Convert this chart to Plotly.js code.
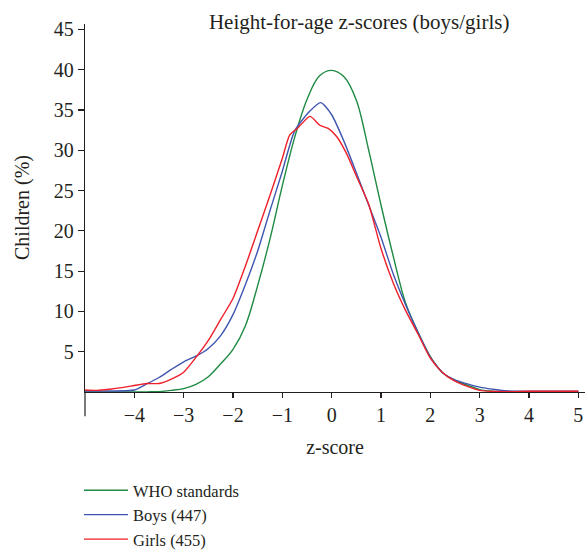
<!DOCTYPE html>
<html>
<head>
<meta charset="utf-8">
<script src="https://cdn.plot.ly/plotly-3.0.1.min.js"></script>
<style>html,body{margin:0;padding:0;background:#fff;}#chart{width:585px;height:551px;}</style>
</head>
<body>
<div id="chart"></div>
<script>
// ---- data ----
const seriesNames = ["WHO standards", "Boys (447)", "Girls (455)"];

const whoZ = [-5,-4.5,-4,-3.75,-3.5,-3.25,-3,-2.75,-2.5,-2.25,-2,-1.75,-1.5,-1.25,-1,-0.75,-0.5,-0.25,0,0.25,0.5,0.75,1,1.25,1.5,1.75,2,2.25,2.5,2.75,3,3.25,3.5,4,4.5,5];
const whoY = [0,0,0,0.02,0.05,0.2,0.42,0.95,1.9,3.5,5.3,8.2,13.2,19.0,25.6,31.6,36.3,39.2,39.9,39.1,36.2,30.0,23.2,16.8,11.0,7.4,4.4,2.4,1.4,0.85,0.3,0.1,0.03,0.01,0,0];

const boysZ = [-5,-4.5,-4,-3.75,-3.5,-3.25,-3,-2.75,-2.5,-2.25,-2,-1.75,-1.5,-1.25,-1,-0.75,-0.45,-0.22,0,0.25,0.5,0.75,1,1.25,1.5,1.75,2,2.25,2.5,2.75,3,3.25,3.5,4,4.5,5];
const boysY = [0.12,0.12,0.25,1.0,1.8,2.8,3.75,4.45,5.4,7.0,9.6,13.3,17.5,22.5,27.4,32.4,34.8,35.9,34.4,31.1,27.2,23.2,19.2,14.6,10.8,7.4,4.3,2.4,1.5,1.0,0.6,0.35,0.15,0.1,0.1,0.1];

const girlsZ = [-5,-4.75,-4.5,-4.25,-4,-3.75,-3.5,-3.25,-3,-2.75,-2.5,-2.25,-2,-1.75,-1.5,-1.25,-1,-0.85,-0.68,-0.44,-0.24,-0.07,0.1,0.3,0.5,0.75,1,1.25,1.5,1.75,2,2.25,2.5,2.75,3,3.5,4,4.5,5];
const girlsY = [0.25,0.2,0.35,0.55,0.8,1.05,1.05,1.6,2.45,4.3,6.4,9.0,11.6,15.6,20.0,24.4,29.0,31.9,32.8,34.2,33.1,32.7,31.7,29.6,26.8,23.3,17.8,13.5,10.1,7.2,4.2,2.4,1.35,0.7,0.2,0.05,0.1,0.1,0.1];

const xTickVals = [-4,-3,-2,-1,0,1,2,3,4,5];
const xTickText = ["\u22124","\u22123","\u22122","\u22121","0","1","2","3","4","5"];
const yTickVals = [5,10,15,20,25,30,35,40,45];
const yTickText = ["5","10","15","20","25","30","35","40","45"];

const chartTitle = "Height-for-age z-scores (boys/girls)";
const xTitle = "z-score";
const yTitle = "Children (%)";

// ---- chart ----
const FONT = "Liberation Serif, Times New Roman, serif";
const INK = "#231f20";
const colors = ["#1e8a43", "#3f56b0", "#ee1f2a"];

function line(x, y, name, color, smooth) {
  return {
    x: x, y: y, name: name, type: "scatter", mode: "lines",
    line: {color: color, width: 1.4, shape: "spline", smoothing: smooth},
    cliponaxis: false, hoverinfo: "skip"
  };
}

const traces = [
  line(whoZ, whoY, seriesNames[0], colors[0], 1.0),
  line(boysZ, boysY, seriesNames[1], colors[1], 0.6),
  line(girlsZ, girlsY, seriesNames[2], colors[2], 0.6)
];

const layout = {
  width: 585, height: 551,
  margin: {l: 85, r: 0, t: 24, b: 159, pad: 0, autoexpand: false},
  paper_bgcolor: "#fff", plot_bgcolor: "#fff",
  font: {family: FONT, size: 20, color: INK},
  showlegend: true,
  title: {
    text: chartTitle, font: {family: FONT, size: 21, color: INK},
    xref: "container", yref: "container", x: 0.614, y: 0.96,
    xanchor: "center", yanchor: "middle", automargin: false
  },
  xaxis: {
    range: [-5, 5.135], showgrid: false, zeroline: false, automargin: true,
    showline: true, linecolor: INK, linewidth: 1.2,
    ticks: "outside", ticklen: 5, tickwidth: 1.2, tickcolor: INK,
    tickvals: xTickVals, ticktext: xTickText,
    tickfont: {family: FONT, size: 20, color: INK},
    title: {text: xTitle, font: {family: FONT, size: 20, color: INK}, standoff: 14}
  },
  yaxis: {
    range: [0, 45.66], showgrid: false, zeroline: false, automargin: false,
    showline: true, linecolor: INK, linewidth: 1.2,
    ticks: "outside", ticklen: 6, tickwidth: 1.2, tickcolor: INK,
    tickvals: yTickVals, ticktext: yTickText,
    tickfont: {family: FONT, size: 20, color: INK}
  },
  annotations: [{
    text: yTitle, xref: "paper", yref: "paper",
    x: -63/500, y: 0.5, xanchor: "center", yanchor: "middle",
    textangle: -90, showarrow: false,
    font: {family: FONT, size: 20, color: INK}
  }],
  shapes: [{
    type: "line", xref: "paper", yref: "paper",
    x0: 0, x1: 0, y0: 0, y1: -0.066,
    line: {color: INK, width: 1.2}
  }],
  legend: {
    xref: "container", yref: "container",
    x: 79/585, y: 1 - 473/551, xanchor: "left", yanchor: "top",
    orientation: "v", bgcolor: "rgba(0,0,0,0)",
    font: {family: FONT, size: 16.5, color: INK},
    tracegroupgap: 0, itemwidth: 44
  }
};

Plotly.newPlot("chart", traces, layout, {staticPlot: true, displayModeBar: false});
</script>
</body>
</html>
